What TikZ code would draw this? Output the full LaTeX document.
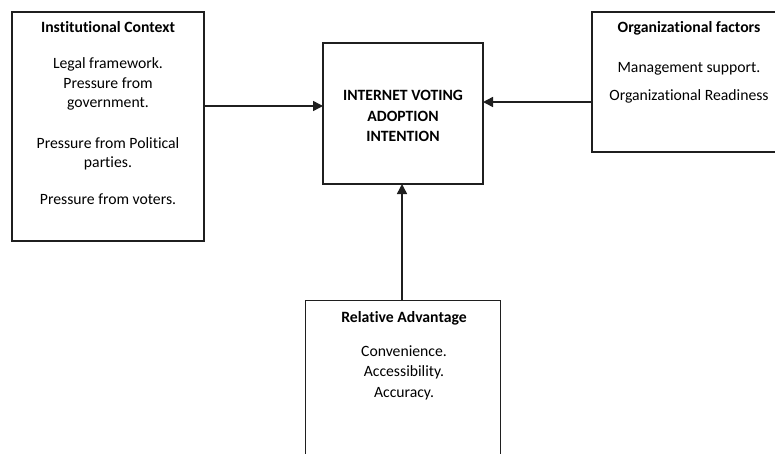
\documentclass[tikz,border=0pt]{standalone}
\usepackage{fontspec}
\setmainfont{Carlito}[Ligatures=NoCommon]
\usetikzlibrary{arrows.meta}
\begin{document}
\begin{tikzpicture}[x=1pt,y=-1pt,
  box/.style={draw=black!88,line width=1.5pt,inner sep=0pt,outer sep=0pt},
  ttl/.style={anchor=base,font=\fontsize{15.7}{19.5}\selectfont\bfseries,inner sep=0pt},
  body/.style={anchor=base,align=center,font=\fontsize{15.7}{19.5}\selectfont,inner sep=0pt},
  arr/.style={draw=black!88,line width=1.5pt,-{Triangle[length=10pt,width=10pt]}}]
\useasboundingbox (0,0) rectangle (775,453);
\clip (0,0) rectangle (775,453);
% boxes
\node[box,minimum width=192pt,minimum height=229pt] (inst) at (108,126.5) {};
\node[box,minimum width=160pt,minimum height=141pt] (iv) at (403,113.5) {};
\node[box,minimum width=194pt,minimum height=140pt] (org) at (689,82) {};
\node[box,minimum width=195pt,minimum height=169pt] (rel) at (403,385) {};
% texts (anchor=base is the baseline of the last line)
\node[ttl] (instT) at (108,32) {Institutional Context};
\node[body] (instB) at (108,204) {Legal framework.\\Pressure from\\government.\\[21pt]Pressure from Political\\parties.\\[17pt]Pressure from voters.};
\node[body,font=\fontsize{15.7}{20.5}\selectfont\bfseries] (ivT) at (403,141.5) {INTERNET VOTING\\ADOPTION\\INTENTION};
\node[ttl] (orgT) at (689,32) {Organizational factors};
\node[body] (orgB) at (689,100) {Management support.\\[8.5pt]Organizational Readiness};
\node[ttl] (relT) at (404,322) {Relative Advantage};
\node[body,font=\fontsize{15.7}{20.2}\selectfont] (relB) at (404,397) {Convenience.\\Accessibility.\\Accuracy.};
% arrows
\draw[arr] (inst.east |- 0,106) -- (iv.west |- 0,106);
\draw[arr] (org.west |- 0,102) -- (iv.east |- 0,102);
\draw[arr] (rel.north -| 402,0) -- (iv.south -| 402,0);
\end{tikzpicture}
\end{document}
